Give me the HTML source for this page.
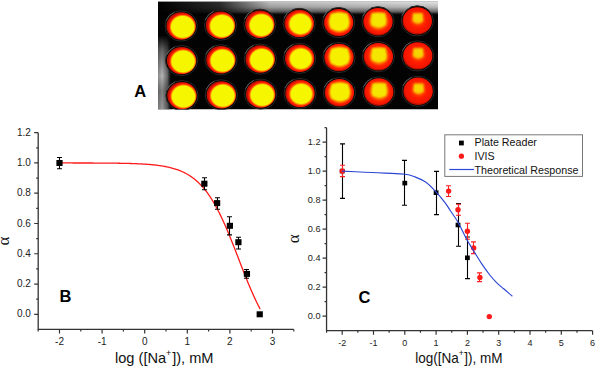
<!DOCTYPE html>
<html><head><meta charset="utf-8"><style>
html,body{margin:0;padding:0;background:#fff;overflow:hidden;}
svg{display:block;}
</style></head><body>
<svg width="596" height="367" viewBox="0 0 596 367">
<defs><clipPath id="plateclip"><rect x="158" y="1.5" width="280" height="108"/></clipPath><linearGradient id="topstrip" x1="0" y1="0" x2="0" y2="1"><stop offset="0" stop-color="#e4e4e4"/><stop offset="0.4" stop-color="#b8b8b8"/><stop offset="0.75" stop-color="#606060"/><stop offset="1" stop-color="#000" stop-opacity="0"/></linearGradient><linearGradient id="topfade" x1="0" y1="0" x2="1" y2="0"><stop offset="0" stop-color="#000" stop-opacity="1"/><stop offset="0.22" stop-color="#000" stop-opacity="0.8"/><stop offset="0.4" stop-color="#000" stop-opacity="0.15"/><stop offset="1" stop-color="#000" stop-opacity="0"/></linearGradient><linearGradient id="leftstrip" x1="0" y1="0" x2="1" y2="0"><stop offset="0" stop-color="#8c8c8c"/><stop offset="0.3" stop-color="#b4b4b4"/><stop offset="0.7" stop-color="#606060"/><stop offset="1" stop-color="#000" stop-opacity="0"/></linearGradient><linearGradient id="leftfade" x1="0" y1="0" x2="0" y2="1"><stop offset="0" stop-color="#000" stop-opacity="1"/><stop offset="0.2" stop-color="#000" stop-opacity="0.45"/><stop offset="0.55" stop-color="#000" stop-opacity="0"/><stop offset="0.75" stop-color="#000" stop-opacity="0.3"/><stop offset="1" stop-color="#000" stop-opacity="0.15"/></linearGradient><filter id="blur1" x="-50%" y="-50%" width="200%" height="200%"><feGaussianBlur stdDeviation="1.1"/></filter><radialGradient id="g0" cx="0.55" cy="0.53" r="0.5"><stop offset="0" stop-color="#f6f600"/><stop offset="0.76" stop-color="#f6f600"/><stop offset="0.83" stop-color="#ff9000"/><stop offset="0.9" stop-color="#ff2000"/><stop offset="0.96" stop-color="#f01400"/><stop offset="1" stop-color="#c01000"/></radialGradient><radialGradient id="g1" cx="0.55" cy="0.53" r="0.5"><stop offset="0" stop-color="#f6f600"/><stop offset="0.76" stop-color="#f6f600"/><stop offset="0.83" stop-color="#ff9000"/><stop offset="0.9" stop-color="#ff2000"/><stop offset="0.96" stop-color="#f01400"/><stop offset="1" stop-color="#c01000"/></radialGradient><radialGradient id="g2" cx="0.55" cy="0.53" r="0.5"><stop offset="0" stop-color="#f6f600"/><stop offset="0.75" stop-color="#f6f600"/><stop offset="0.82" stop-color="#ff9000"/><stop offset="0.89" stop-color="#ff2000"/><stop offset="0.96" stop-color="#f01400"/><stop offset="1" stop-color="#c01000"/></radialGradient><radialGradient id="g3" cx="0.54" cy="0.52" r="0.5"><stop offset="0" stop-color="#f6f600"/><stop offset="0.69" stop-color="#f6f600"/><stop offset="0.78" stop-color="#ff8000"/><stop offset="0.87" stop-color="#ff2000"/><stop offset="0.96" stop-color="#f01400"/><stop offset="1" stop-color="#c01000"/></radialGradient><radialGradient id="g4" cx="0.52" cy="0.48" r="0.5"><stop offset="0" stop-color="#f6f200"/><stop offset="0.58" stop-color="#f6ec00"/><stop offset="0.72" stop-color="#ff7800"/><stop offset="0.85" stop-color="#ff2000"/><stop offset="0.96" stop-color="#f01400"/><stop offset="1" stop-color="#c01000"/></radialGradient><radialGradient id="g5" cx="0.52" cy="0.47" r="0.5"><stop offset="0" stop-color="#f6e800"/><stop offset="0.4" stop-color="#f8d400"/><stop offset="0.6" stop-color="#ff5800"/><stop offset="0.75" stop-color="#ff2000"/><stop offset="0.96" stop-color="#f01400"/><stop offset="1" stop-color="#c01000"/></radialGradient><radialGradient id="g6" cx="0.52" cy="0.46" r="0.5"><stop offset="0" stop-color="#f8d000"/><stop offset="0.2" stop-color="#ffa800"/><stop offset="0.4" stop-color="#ff3800"/><stop offset="0.58" stop-color="#ff1c00"/><stop offset="0.96" stop-color="#f01400"/><stop offset="1" stop-color="#c01000"/></radialGradient></defs>
<g clip-path="url(#plateclip)">
<rect x="158" y="1.5" width="280" height="108.0" fill="#030303"/>
<rect x="158" y="1.5" width="280" height="14" fill="url(#topstrip)"/>
<rect x="158" y="1.5" width="280" height="14" fill="url(#topfade)"/>
<rect x="158" y="35" width="14" height="74.5" fill="url(#leftstrip)"/>
<rect x="158" y="35" width="14" height="74.5" fill="url(#leftfade)"/>
<ellipse cx="181.20" cy="26.00" rx="16.099999999999998" ry="15.1" fill="#040404" stroke="#282828" stroke-width="1"/>
<path d="M165.88,20.77 A16.3,15.299999999999999 0 0 1 174.31,12.13" fill="none" stroke="#b0b0b0" stroke-width="0.9" opacity="0.45"/>
<ellipse cx="181.60" cy="60.60" rx="16.099999999999998" ry="15.1" fill="#040404" stroke="#282828" stroke-width="1"/>
<path d="M166.28,55.37 A16.3,15.299999999999999 0 0 1 174.71,46.73" fill="none" stroke="#b0b0b0" stroke-width="0.9" opacity="0.45"/>
<ellipse cx="182.00" cy="95.60" rx="16.099999999999998" ry="15.1" fill="#040404" stroke="#282828" stroke-width="1"/>
<path d="M166.68,90.37 A16.3,15.299999999999999 0 0 1 175.11,81.73" fill="none" stroke="#b0b0b0" stroke-width="0.9" opacity="0.45"/>
<ellipse cx="220.55" cy="25.15" rx="16.099999999999998" ry="15.1" fill="#040404" stroke="#282828" stroke-width="1"/>
<path d="M205.23,19.92 A16.3,15.299999999999999 0 0 1 213.66,11.28" fill="none" stroke="#b0b0b0" stroke-width="0.9" opacity="0.45"/>
<ellipse cx="220.95" cy="59.82" rx="16.099999999999998" ry="15.1" fill="#040404" stroke="#282828" stroke-width="1"/>
<path d="M205.63,54.59 A16.3,15.299999999999999 0 0 1 214.06,45.95" fill="none" stroke="#b0b0b0" stroke-width="0.9" opacity="0.45"/>
<ellipse cx="221.35" cy="94.88" rx="16.099999999999998" ry="15.1" fill="#040404" stroke="#282828" stroke-width="1"/>
<path d="M206.03,89.65 A16.3,15.299999999999999 0 0 1 214.46,81.01" fill="none" stroke="#b0b0b0" stroke-width="0.9" opacity="0.45"/>
<ellipse cx="259.90" cy="24.30" rx="16.099999999999998" ry="15.1" fill="#040404" stroke="#282828" stroke-width="1"/>
<path d="M244.58,19.07 A16.3,15.299999999999999 0 0 1 253.01,10.43" fill="none" stroke="#b0b0b0" stroke-width="0.9" opacity="0.45"/>
<ellipse cx="260.30" cy="59.04" rx="16.099999999999998" ry="15.1" fill="#040404" stroke="#282828" stroke-width="1"/>
<path d="M244.98,53.81 A16.3,15.299999999999999 0 0 1 253.41,45.17" fill="none" stroke="#b0b0b0" stroke-width="0.9" opacity="0.45"/>
<ellipse cx="260.70" cy="94.16" rx="16.099999999999998" ry="15.1" fill="#040404" stroke="#282828" stroke-width="1"/>
<path d="M245.38,88.93 A16.3,15.299999999999999 0 0 1 253.81,80.29" fill="none" stroke="#b0b0b0" stroke-width="0.9" opacity="0.45"/>
<ellipse cx="299.25" cy="23.45" rx="16.099999999999998" ry="15.1" fill="#040404" stroke="#282828" stroke-width="1"/>
<path d="M283.93,18.22 A16.3,15.299999999999999 0 0 1 292.36,9.58" fill="none" stroke="#b0b0b0" stroke-width="0.9" opacity="0.45"/>
<ellipse cx="299.65" cy="58.26" rx="16.099999999999998" ry="15.1" fill="#040404" stroke="#282828" stroke-width="1"/>
<path d="M284.33,53.03 A16.3,15.299999999999999 0 0 1 292.76,44.39" fill="none" stroke="#b0b0b0" stroke-width="0.9" opacity="0.45"/>
<ellipse cx="300.05" cy="93.44" rx="16.099999999999998" ry="15.1" fill="#040404" stroke="#282828" stroke-width="1"/>
<path d="M284.73,88.21 A16.3,15.299999999999999 0 0 1 293.16,79.57" fill="none" stroke="#b0b0b0" stroke-width="0.9" opacity="0.45"/>
<ellipse cx="338.60" cy="22.60" rx="16.099999999999998" ry="15.1" fill="#040404" stroke="#282828" stroke-width="1"/>
<path d="M323.28,17.37 A16.3,15.299999999999999 0 0 1 331.71,8.73" fill="none" stroke="#b0b0b0" stroke-width="0.9" opacity="0.45"/>
<ellipse cx="339.00" cy="57.48" rx="16.099999999999998" ry="15.1" fill="#040404" stroke="#282828" stroke-width="1"/>
<path d="M323.68,52.25 A16.3,15.299999999999999 0 0 1 332.11,43.61" fill="none" stroke="#b0b0b0" stroke-width="0.9" opacity="0.45"/>
<ellipse cx="339.40" cy="92.72" rx="16.099999999999998" ry="15.1" fill="#040404" stroke="#282828" stroke-width="1"/>
<path d="M324.08,87.49 A16.3,15.299999999999999 0 0 1 332.51,78.85" fill="none" stroke="#b0b0b0" stroke-width="0.9" opacity="0.45"/>
<ellipse cx="377.95" cy="21.75" rx="16.099999999999998" ry="15.1" fill="#040404" stroke="#282828" stroke-width="1"/>
<path d="M362.63,16.52 A16.3,15.299999999999999 0 0 1 371.06,7.88" fill="none" stroke="#b0b0b0" stroke-width="0.9" opacity="0.45"/>
<ellipse cx="378.35" cy="56.70" rx="16.099999999999998" ry="15.1" fill="#040404" stroke="#282828" stroke-width="1"/>
<path d="M363.03,51.47 A16.3,15.299999999999999 0 0 1 371.46,42.83" fill="none" stroke="#b0b0b0" stroke-width="0.9" opacity="0.45"/>
<ellipse cx="378.75" cy="92.00" rx="16.099999999999998" ry="15.1" fill="#040404" stroke="#282828" stroke-width="1"/>
<path d="M363.43,86.77 A16.3,15.299999999999999 0 0 1 371.86,78.13" fill="none" stroke="#b0b0b0" stroke-width="0.9" opacity="0.45"/>
<ellipse cx="417.30" cy="20.90" rx="16.099999999999998" ry="15.1" fill="#040404" stroke="#282828" stroke-width="1"/>
<path d="M401.98,15.67 A16.3,15.299999999999999 0 0 1 410.41,7.03" fill="none" stroke="#b0b0b0" stroke-width="0.9" opacity="0.45"/>
<ellipse cx="417.70" cy="55.92" rx="16.099999999999998" ry="15.1" fill="#040404" stroke="#282828" stroke-width="1"/>
<path d="M402.38,50.69 A16.3,15.299999999999999 0 0 1 410.81,42.05" fill="none" stroke="#b0b0b0" stroke-width="0.9" opacity="0.45"/>
<ellipse cx="418.10" cy="91.28" rx="16.099999999999998" ry="15.1" fill="#040404" stroke="#282828" stroke-width="1"/>
<path d="M402.78,86.05 A16.3,15.299999999999999 0 0 1 411.21,77.41" fill="none" stroke="#b0b0b0" stroke-width="0.9" opacity="0.45"/>
<ellipse cx="181.20" cy="26.00" rx="14.7" ry="13.7" fill="url(#g0)"/>
<ellipse cx="181.60" cy="60.60" rx="14.7" ry="13.7" fill="url(#g0)"/>
<ellipse cx="182.00" cy="95.60" rx="14.7" ry="13.7" fill="url(#g0)"/>
<ellipse cx="220.55" cy="25.15" rx="14.7" ry="13.7" fill="url(#g1)"/>
<ellipse cx="220.95" cy="59.82" rx="14.7" ry="13.7" fill="url(#g1)"/>
<ellipse cx="221.35" cy="94.88" rx="14.7" ry="13.7" fill="url(#g1)"/>
<ellipse cx="259.90" cy="24.30" rx="14.7" ry="13.7" fill="url(#g2)"/>
<ellipse cx="260.30" cy="59.04" rx="14.7" ry="13.7" fill="url(#g2)"/>
<ellipse cx="260.70" cy="94.16" rx="14.7" ry="13.7" fill="url(#g2)"/>
<ellipse cx="299.25" cy="23.45" rx="14.7" ry="13.7" fill="url(#g3)"/>
<ellipse cx="299.65" cy="58.26" rx="14.7" ry="13.7" fill="url(#g3)"/>
<ellipse cx="300.05" cy="93.44" rx="14.7" ry="13.7" fill="url(#g3)"/>
<ellipse cx="338.60" cy="22.60" rx="14.7" ry="13.7" fill="url(#g4)"/>
<rect x="330.60" y="13.60" width="17.0" height="15.0" fill="#f6f000" filter="url(#blur1)"/>
<ellipse cx="339.00" cy="57.48" rx="14.7" ry="13.7" fill="url(#g4)"/>
<rect x="331.00" y="48.48" width="17.0" height="15.0" fill="#f6f000" filter="url(#blur1)"/>
<ellipse cx="339.40" cy="92.72" rx="14.7" ry="13.7" fill="url(#g4)"/>
<rect x="331.40" y="83.72" width="17.0" height="15.0" fill="#f6f000" filter="url(#blur1)"/>
<ellipse cx="377.95" cy="21.75" rx="14.7" ry="13.7" fill="url(#g5)"/>
<rect x="371.45" y="13.00" width="14.0" height="12.5" fill="#f4e600" filter="url(#blur1)"/>
<ellipse cx="378.35" cy="56.70" rx="14.7" ry="13.7" fill="url(#g5)"/>
<rect x="371.85" y="47.95" width="14.0" height="12.5" fill="#f4e600" filter="url(#blur1)"/>
<ellipse cx="378.75" cy="92.00" rx="14.7" ry="13.7" fill="url(#g5)"/>
<rect x="372.25" y="83.25" width="14.0" height="12.5" fill="#f4e600" filter="url(#blur1)"/>
<ellipse cx="417.30" cy="20.90" rx="14.7" ry="13.7" fill="url(#g6)"/>
<rect x="412.80" y="13.15" width="10" height="8.5" fill="#f6d400" filter="url(#blur1)"/>
<ellipse cx="417.70" cy="55.92" rx="14.7" ry="13.7" fill="url(#g6)"/>
<rect x="413.20" y="48.17" width="10" height="8.5" fill="#f6d400" filter="url(#blur1)"/>
<ellipse cx="418.10" cy="91.28" rx="14.7" ry="13.7" fill="url(#g6)"/>
<rect x="413.60" y="83.53" width="10" height="8.5" fill="#f6d400" filter="url(#blur1)"/>
</g>
<text x="140.3" y="97.2" font-family='"Liberation Sans", sans-serif' font-weight="bold" font-size="16.5" text-anchor="middle">A</text>
<path d="M38.20,132.68 V329.44 H293.80" fill="none" stroke="#333" stroke-width="1.3"/>
<path d="M38.20,314.30 h-4 M38.20,299.17 h-2 M38.20,284.03 h-4 M38.20,268.89 h-2 M38.20,253.76 h-4 M38.20,238.62 h-2 M38.20,223.49 h-4 M38.20,208.36 h-2 M38.20,193.22 h-4 M38.20,178.09 h-2 M38.20,162.95 h-4 M38.20,147.81 h-2 M38.20,132.68 h-4 M38.20,329.44 v2 M59.50,329.44 v4 M80.80,329.44 v2 M102.10,329.44 v4 M123.40,329.44 v2 M144.70,329.44 v4 M166.00,329.44 v2 M187.30,329.44 v4 M208.60,329.44 v2 M229.90,329.44 v4 M251.20,329.44 v2 M272.50,329.44 v4 M293.80,329.44 v2" stroke="#333" stroke-width="1.2" fill="none"/>
<text x="30.8" y="317.40" font-family='"Liberation Sans", sans-serif' font-size="10" text-anchor="end" fill="#222">0.0</text>
<text x="30.8" y="287.13" font-family='"Liberation Sans", sans-serif' font-size="10" text-anchor="end" fill="#222">0.2</text>
<text x="30.8" y="256.86" font-family='"Liberation Sans", sans-serif' font-size="10" text-anchor="end" fill="#222">0.4</text>
<text x="30.8" y="226.59" font-family='"Liberation Sans", sans-serif' font-size="10" text-anchor="end" fill="#222">0.6</text>
<text x="30.8" y="196.32" font-family='"Liberation Sans", sans-serif' font-size="10" text-anchor="end" fill="#222">0.8</text>
<text x="30.8" y="166.05" font-family='"Liberation Sans", sans-serif' font-size="10" text-anchor="end" fill="#222">1.0</text>
<text x="30.8" y="135.78" font-family='"Liberation Sans", sans-serif' font-size="10" text-anchor="end" fill="#222">1.2</text>
<text x="59.50" y="345.2" font-family='"Liberation Sans", sans-serif' font-size="10" text-anchor="middle" fill="#222">-2</text>
<text x="102.10" y="345.2" font-family='"Liberation Sans", sans-serif' font-size="10" text-anchor="middle" fill="#222">-1</text>
<text x="144.70" y="345.2" font-family='"Liberation Sans", sans-serif' font-size="10" text-anchor="middle" fill="#222">0</text>
<text x="187.30" y="345.2" font-family='"Liberation Sans", sans-serif' font-size="10" text-anchor="middle" fill="#222">1</text>
<text x="229.90" y="345.2" font-family='"Liberation Sans", sans-serif' font-size="10" text-anchor="middle" fill="#222">2</text>
<text x="272.50" y="345.2" font-family='"Liberation Sans", sans-serif' font-size="10" text-anchor="middle" fill="#222">3</text>
<text x="115" y="362.7" font-family='"Liberation Sans", sans-serif' font-size="14.6" fill="#111">log ([Na<tspan dy="-6.5" font-size="9">+</tspan><tspan dy="6.5" dx="0.8">]), mM</tspan></text>
<text transform="translate(8.8,241.1) rotate(-90)" font-family='"Liberation Serif", serif' font-size="17" text-anchor="middle" fill="#111">&#945;</text>
<text x="65.4" y="302.4" font-family='"Liberation Sans", sans-serif' font-weight="bold" font-size="16.5" text-anchor="middle">B</text>
<polyline points="59.50,162.96 60.35,162.96 61.20,162.96 62.06,162.96 62.91,162.96 63.76,162.97 64.61,162.97 65.46,162.97 66.32,162.97 67.17,162.97 68.02,162.97 68.87,162.97 69.72,162.97 70.58,162.97 71.43,162.97 72.28,162.97 73.13,162.98 73.98,162.98 74.84,162.98 75.69,162.98 76.54,162.98 77.39,162.98 78.24,162.98 79.10,162.98 79.95,162.99 80.80,162.99 81.65,162.99 82.50,162.99 83.36,162.99 84.21,163.00 85.06,163.00 85.91,163.00 86.76,163.00 87.62,163.00 88.47,163.01 89.32,163.01 90.17,163.01 91.02,163.02 91.88,163.02 92.73,163.02 93.58,163.03 94.43,163.03 95.28,163.03 96.14,163.04 96.99,163.04 97.84,163.05 98.69,163.05 99.54,163.05 100.40,163.06 101.25,163.06 102.10,163.07 102.95,163.08 103.80,163.08 104.66,163.09 105.51,163.09 106.36,163.10 107.21,163.11 108.06,163.12 108.92,163.12 109.77,163.13 110.62,163.14 111.47,163.15 112.32,163.16 113.18,163.17 114.03,163.18 114.88,163.19 115.73,163.20 116.58,163.21 117.44,163.22 118.29,163.24 119.14,163.25 119.99,163.26 120.84,163.28 121.70,163.29 122.55,163.31 123.40,163.33 124.25,163.35 125.10,163.36 125.96,163.38 126.81,163.40 127.66,163.43 128.51,163.45 129.36,163.47 130.22,163.50 131.07,163.52 131.92,163.55 132.77,163.58 133.62,163.61 134.48,163.64 135.33,163.67 136.18,163.70 137.03,163.74 137.88,163.78 138.74,163.81 139.59,163.85 140.44,163.90 141.29,163.94 142.14,163.99 143.00,164.04 143.85,164.09 144.70,164.14 145.55,164.20 146.40,164.25 147.26,164.32 148.11,164.38 148.96,164.45 149.81,164.52 150.66,164.59 151.52,164.67 152.37,164.75 153.22,164.83 154.07,164.92 154.92,165.01 155.78,165.11 156.63,165.21 157.48,165.31 158.33,165.42 159.18,165.54 160.04,165.66 160.89,165.78 161.74,165.91 162.59,166.05 163.44,166.19 164.30,166.34 165.15,166.50 166.00,166.67 166.85,166.84 167.70,167.02 168.56,167.20 169.41,167.40 170.26,167.60 171.11,167.82 171.96,168.04 172.82,168.27 173.67,168.52 174.52,168.77 175.37,169.04 176.22,169.32 177.08,169.61 177.93,169.91 178.78,170.22 179.63,170.55 180.48,170.90 181.34,171.25 182.19,171.63 183.04,172.02 183.89,172.42 184.74,172.85 185.60,173.29 186.45,173.75 187.30,174.23 188.15,174.73 189.00,175.25 189.86,175.79 190.71,176.35 191.56,176.93 192.41,177.54 193.26,178.18 194.12,178.83 194.97,179.52 195.82,180.23 196.67,180.97 197.52,181.73 198.38,182.53 199.23,183.35 200.08,184.21 200.93,185.09 201.78,186.01 202.64,186.96 203.49,187.95 204.34,188.96 205.19,190.02 206.04,191.10 206.90,192.23 207.75,193.39 208.60,194.59 209.45,195.82 210.30,197.10 211.16,198.41 212.01,199.76 212.86,201.15 213.71,202.57 214.56,204.04 215.42,205.55 216.27,207.09 217.12,208.68 217.97,210.30 218.82,211.96 219.68,213.66 220.53,215.40 221.38,217.17 222.23,218.98 223.08,220.82 223.94,222.70 224.79,224.61 225.64,226.55 226.49,228.52 227.34,230.52 228.20,232.55 229.05,234.61 229.90,236.68 230.75,238.79 231.60,240.91 232.46,243.04 233.31,245.20 234.16,247.37 235.01,249.55 235.86,251.74 236.72,253.94 237.57,256.14 238.42,258.35 239.27,260.56 240.12,262.76 240.98,264.96 241.83,267.16 242.68,269.34 243.53,271.52 244.38,273.68 245.24,275.83 246.09,277.95 246.94,280.06 247.79,282.15 248.64,284.21 249.50,286.25 250.35,288.27 251.20,290.25 252.05,292.20 252.90,294.13 253.76,296.02 254.61,297.88 255.46,299.70 256.31,301.49 257.16,303.24 258.02,304.95 258.87,306.63 259.72,308.27 260.19,309.15" fill="none" stroke="#ff1a1a" stroke-width="1.3"/>
<path d="M59.50,157.5 V168.8 M57.00,157.5 h5 M57.00,168.8 h5" stroke="#000" stroke-width="1.1" fill="none"/>
<rect x="56.40" y="160.00" width="6.2" height="6.0" fill="#000"/>
<path d="M204.50,177.7 V189.7 M202.00,177.7 h5 M202.00,189.7 h5" stroke="#000" stroke-width="1.1" fill="none"/>
<rect x="201.24" y="180.70" width="6.2" height="6.0" fill="#000"/>
<path d="M217.50,197.7 V209.3 M215.00,197.7 h5 M215.00,209.3 h5" stroke="#000" stroke-width="1.1" fill="none"/>
<rect x="214.02" y="200.10" width="6.2" height="6.0" fill="#000"/>
<path d="M229.50,216.8 V234.9 M227.00,216.8 h5 M227.00,234.9 h5" stroke="#000" stroke-width="1.1" fill="none"/>
<rect x="226.80" y="222.80" width="6.2" height="6.0" fill="#000"/>
<path d="M238.50,237.2 V249.0 M236.00,237.2 h5 M236.00,249.0 h5" stroke="#000" stroke-width="1.1" fill="none"/>
<rect x="235.32" y="239.20" width="6.2" height="6.0" fill="#000"/>
<path d="M246.50,269.5 V278.2 M244.00,269.5 h5 M244.00,278.2 h5" stroke="#000" stroke-width="1.1" fill="none"/>
<rect x="243.84" y="270.90" width="6.2" height="6.0" fill="#000"/>
<rect x="256.62" y="311.30" width="6.2" height="6.0" fill="#000"/>
<path d="M326.55,127.70 V330.70 H592.60" fill="none" stroke="#333" stroke-width="1.3"/>
<path d="M326.55,316.20 h-4 M326.55,301.70 h-2 M326.55,287.20 h-4 M326.55,272.70 h-2 M326.55,258.20 h-4 M326.55,243.70 h-2 M326.55,229.20 h-4 M326.55,214.70 h-2 M326.55,200.20 h-4 M326.55,185.70 h-2 M326.55,171.20 h-4 M326.55,156.70 h-2 M326.55,142.20 h-4 M326.55,127.70 h-2 M326.55,330.70 v2 M342.20,330.70 v4 M357.85,330.70 v2 M373.50,330.70 v4 M389.15,330.70 v2 M404.80,330.70 v4 M420.45,330.70 v2 M436.10,330.70 v4 M451.75,330.70 v2 M467.40,330.70 v4 M483.05,330.70 v2 M498.70,330.70 v4 M514.35,330.70 v2 M530.00,330.70 v4 M545.65,330.70 v2 M561.30,330.70 v4 M576.95,330.70 v2 M592.60,330.70 v4" stroke="#333" stroke-width="1.2" fill="none"/>
<text x="320.5" y="319.20" font-family='"Liberation Sans", sans-serif' font-size="9.2" text-anchor="end" fill="#222">0.0</text>
<text x="320.5" y="290.20" font-family='"Liberation Sans", sans-serif' font-size="9.2" text-anchor="end" fill="#222">0.2</text>
<text x="320.5" y="261.20" font-family='"Liberation Sans", sans-serif' font-size="9.2" text-anchor="end" fill="#222">0.4</text>
<text x="320.5" y="232.20" font-family='"Liberation Sans", sans-serif' font-size="9.2" text-anchor="end" fill="#222">0.6</text>
<text x="320.5" y="203.20" font-family='"Liberation Sans", sans-serif' font-size="9.2" text-anchor="end" fill="#222">0.8</text>
<text x="320.5" y="174.20" font-family='"Liberation Sans", sans-serif' font-size="9.2" text-anchor="end" fill="#222">1.0</text>
<text x="320.5" y="145.20" font-family='"Liberation Sans", sans-serif' font-size="9.2" text-anchor="end" fill="#222">1.2</text>
<text x="342.20" y="346.2" font-family='"Liberation Sans", sans-serif' font-size="9" text-anchor="middle" fill="#222">-2</text>
<text x="373.50" y="346.2" font-family='"Liberation Sans", sans-serif' font-size="9" text-anchor="middle" fill="#222">-1</text>
<text x="404.80" y="346.2" font-family='"Liberation Sans", sans-serif' font-size="9" text-anchor="middle" fill="#222">0</text>
<text x="436.10" y="346.2" font-family='"Liberation Sans", sans-serif' font-size="9" text-anchor="middle" fill="#222">1</text>
<text x="467.40" y="346.2" font-family='"Liberation Sans", sans-serif' font-size="9" text-anchor="middle" fill="#222">2</text>
<text x="498.70" y="346.2" font-family='"Liberation Sans", sans-serif' font-size="9" text-anchor="middle" fill="#222">3</text>
<text x="530.00" y="346.2" font-family='"Liberation Sans", sans-serif' font-size="9" text-anchor="middle" fill="#222">4</text>
<text x="561.30" y="346.2" font-family='"Liberation Sans", sans-serif' font-size="9" text-anchor="middle" fill="#222">5</text>
<text x="592.60" y="346.2" font-family='"Liberation Sans", sans-serif' font-size="9" text-anchor="middle" fill="#222">6</text>
<text transform="translate(415.2,362.9) scale(0.94,1)" font-family='"Liberation Sans", sans-serif' font-size="14.4" fill="#111">log([Na<tspan dy="-6.5" font-size="9">+</tspan><tspan dy="6.5" dx="0.6">]), mM</tspan></text>
<text transform="translate(299,238.8) rotate(-90)" font-family='"Liberation Serif", serif' font-size="17" text-anchor="middle" fill="#111">&#945;</text>
<text x="364.5" y="302.6" font-family='"Liberation Sans", sans-serif' font-weight="bold" font-size="16.5" text-anchor="middle">C</text>
<path d="M342.50,143.9 V198.4 M340.00,143.9 h5 M340.00,198.4 h5" stroke="#000" stroke-width="1.1" fill="none"/>
<rect x="339.80" y="168.80" width="4.8" height="4.6" fill="#000"/>
<path d="M404.50,160.4 V205.3 M402.00,160.4 h5 M402.00,205.3 h5" stroke="#000" stroke-width="1.1" fill="none"/>
<rect x="402.40" y="180.80" width="4.8" height="4.6" fill="#000"/>
<path d="M436.50,171.4 V214.6 M434.00,171.4 h5 M434.00,214.6 h5" stroke="#000" stroke-width="1.1" fill="none"/>
<rect x="433.70" y="190.40" width="4.8" height="4.6" fill="#000"/>
<path d="M458.50,203.5 V246.3 M456.00,203.5 h5 M456.00,246.3 h5" stroke="#000" stroke-width="1.1" fill="none"/>
<rect x="455.61" y="222.70" width="4.8" height="4.6" fill="#000"/>
<path d="M467.50,237.0 V278.6 M465.00,237.0 h5 M465.00,278.6 h5" stroke="#000" stroke-width="1.1" fill="none"/>
<rect x="465.00" y="255.50" width="4.8" height="4.6" fill="#000"/>
<path d="M342.50,165.3 V176.6 M340.00,165.3 h5 M340.00,176.6 h5" stroke="#ff2020" stroke-width="1.1" fill="none"/>
<circle cx="342.20" cy="171.1" r="2.7" fill="#ff1a1a"/>
<path d="M448.50,185.8 V196.5 M446.00,185.8 h5 M446.00,196.5 h5" stroke="#ff2020" stroke-width="1.1" fill="none"/>
<circle cx="448.62" cy="191.1" r="2.7" fill="#ff1a1a"/>
<path d="M458.50,204.3 V215.2 M456.00,204.3 h5 M456.00,215.2 h5" stroke="#ff2020" stroke-width="1.1" fill="none"/>
<circle cx="458.01" cy="209.7" r="2.7" fill="#ff1a1a"/>
<path d="M467.50,223.3 V239.2 M465.00,223.3 h5 M465.00,239.2 h5" stroke="#ff2020" stroke-width="1.1" fill="none"/>
<circle cx="467.40" cy="231.3" r="2.7" fill="#ff1a1a"/>
<path d="M473.50,241.9 V253.6 M471.00,241.9 h5 M471.00,253.6 h5" stroke="#ff2020" stroke-width="1.1" fill="none"/>
<circle cx="473.66" cy="247.9" r="2.7" fill="#ff1a1a"/>
<path d="M479.50,272.9 V281.6 M477.00,272.9 h5 M477.00,281.6 h5" stroke="#ff2020" stroke-width="1.1" fill="none"/>
<circle cx="479.92" cy="277.5" r="2.7" fill="#ff1a1a"/>
<circle cx="489.31" cy="316.6" r="2.7" fill="#ff1a1a"/>
<path d="M341.9,171.1 C345.75,171.28 357.82,171.87 365,172.2 C372.18,172.53 378.30,172.77 385,173.1 C391.70,173.43 400.20,173.57 405.2,174.2 C410.20,174.83 411.55,175.55 415,176.9 C418.45,178.25 422.45,179.85 425.9,182.3 C429.35,184.75 432.52,188.22 435.7,191.6 C438.88,194.98 442.55,199.40 445,202.6 C447.45,205.80 448.23,207.53 450.4,210.8 C452.57,214.07 455.20,217.28 458,222.2 C460.80,227.12 464.67,235.65 467.2,240.3 C469.73,244.95 470.80,246.22 473.2,250.1 C475.60,253.98 478.83,259.45 481.6,263.6 C484.37,267.75 487.35,271.88 489.8,275 C492.25,278.12 493.98,280.00 496.3,282.3 C498.62,284.60 501.02,286.48 503.7,288.8 C506.38,291.12 510.95,294.97 512.4,296.2" fill="none" stroke="#2c46d4" stroke-width="1.15"/>
<rect x="444.8" y="134.8" width="137.7" height="41.6" fill="#fff" stroke="#777" stroke-width="1"/>
<rect x="459" y="140.6" width="4.8" height="4.8" fill="#000"/>
<circle cx="461.4" cy="156.2" r="2.6" fill="#ff1a1a"/>
<line x1="449.3" y1="169.5" x2="474.1" y2="169.5" stroke="#2f48d8" stroke-width="1.2"/>
<text x="474.5" y="146.2" font-family='"Liberation Sans", sans-serif' font-size="10.7" fill="#111">Plate Reader</text>
<text x="474.5" y="160" font-family='"Liberation Sans", sans-serif' font-size="10.7" fill="#111">IVIS</text>
<text x="474.5" y="173.5" font-family='"Liberation Sans", sans-serif' font-size="10.7" fill="#111">Theoretical Response</text>
</svg>
</body></html>
